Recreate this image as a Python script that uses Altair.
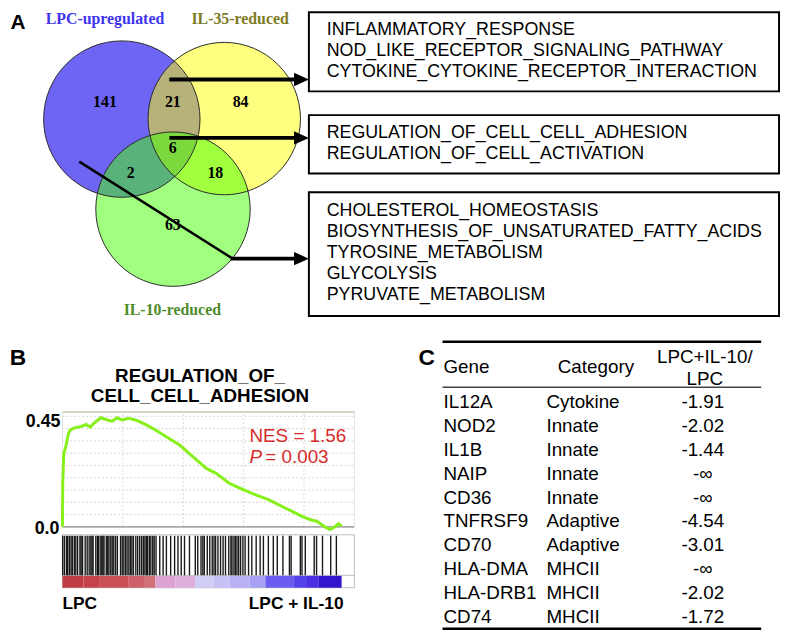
import altair as alt
import pandas as pd

SANS = "Liberation Sans"
SERIF = "Liberation Serif"

# ---------------- data ----------------
venn_sets = ["LPC-upregulated", "IL-35-reduced", "IL-10-reduced"]
venn_set_colors = ["#3f35ee", "#7d7b1f", "#4f8b2b"]
venn_region_counts = [141, 21, 84, 6, 2, 18, 63]

box1_terms = ["INFLAMMATORY_RESPONSE", "NOD_LIKE_RECEPTOR_SIGNALING_PATHWAY",
              "CYTOKINE_CYTOKINE_RECEPTOR_INTERACTION"]
box2_terms = ["REGULATION_OF_CELL_CELL_ADHESION", "REGULATION_OF_CELL_ACTIVATION"]
box3_terms = ["CHOLESTEROL_HOMEOSTASIS", "BIOSYNTHESIS_OF_UNSATURATED_FATTY_ACIDS",
              "TYROSINE_METABOLISM", "GLYCOLYSIS", "PYRUVATE_METABOLISM"]

gsea_title = ["REGULATION_OF_", "CELL_CELL_ADHESION"]
es_rank = [0, 10, 43, 121, 197, 262, 393, 613, 777, 918, 1049, 1269, 1485, 1649, 1813,
           1977, 2197, 2469, 2744, 3016, 3452, 3892, 4328, 4764, 5092, 5531, 5967, 6403,
           6843, 7279, 7607, 7934, 8262, 8426, 8698, 8862, 9026, 9138, 9246]
es_value = [0.0, 0.177, 0.298, 0.332, 0.379, 0.395, 0.403, 0.408, 0.417, 0.406, 0.422,
            0.444, 0.435, 0.430, 0.444, 0.435, 0.442, 0.433, 0.417, 0.399, 0.366, 0.332,
            0.285, 0.238, 0.218, 0.177, 0.153, 0.130, 0.110, 0.083, 0.063, 0.043, 0.027,
            0.023, 0.0, -0.011, 0.0, 0.013, 0.003]
es_ticks = [0.05, 0.10, 0.15, 0.20, 0.25, 0.30, 0.35, 0.40, 0.45]
rank_ticks = [2000, 4000, 6000, 8000]
hit_ranks = [10, 66, 134, 174, 230, 285, 328, 393, 443, 502, 580, 620, 666, 754, 820,
             885, 941, 980, 1016, 1105, 1160, 1190, 1250, 1302, 1340, 1377, 1452, 1500,
             1541, 1600, 1649, 1700, 1761, 1820, 1925, 1980, 2033, 2090, 2141, 2200,
             2252, 2300, 2351, 2430, 2492, 2560, 2623, 2680, 2731, 2780, 2820, 2880,
             2928, 2990, 3039, 3100, 3223, 3334, 3443, 3584, 3715, 3826, 3934, 4043,
             4207, 4400, 4482, 4590, 4650, 4698, 4797, 4880, 4961, 5020, 5072, 5150,
             5236, 5320, 5400, 5508, 5580, 5616, 5680, 5728, 5780, 5836, 5900, 5977,
             6050, 6164, 6272, 6416, 6548, 6656, 6820, 6984, 7115, 7302, 7518, 7574,
             7879, 7934, 8043, 8338, 8416, 8613, 8885, 9072]
cbar_start = [0, 700, 1213, 2197, 2700, 3082, 3738, 4393, 5000, 5541, 6200, 6721, 7672,
              8100, 8492]
cbar_end = [700, 1213, 2197, 2700, 3082, 3738, 4393, 5000, 5541, 6200, 6721, 7672, 8100,
            8492, 9246]
cbar_color = ["#c23c44", "#c5424b", "#ca5058", "#cd6068", "#d27078", "#dca2d2", "#dfaedb",
              "#d0cdf7", "#c6c2f6", "#b8b2f4", "#a8a0f2", "#6c5cf0", "#5440e8", "#4a30e2",
              "#3414cc"]
nes_text = "NES = 1.56"
p_text = "= 0.003"

genes = ["IL12A", "NOD2", "IL1B", "NAIP", "CD36", "TNFRSF9", "CD70", "HLA-DMA",
         "HLA-DRB1", "CD74"]
categories = ["Cytokine", "Innate", "Innate", "Innate", "Innate", "Adaptive",
              "Adaptive", "MHCII", "MHCII", "MHCII"]
ratios = ["-1.91", "-2.02", "-1.44", "-\u221e", "-\u221e", "-4.54", "-3.01", "-\u221e",
          "-2.02", "-1.72"]

# ---------------- layout (reference pixel frame, page margin 8px) ----------------
W, H = 782, 626
OFF = 8


def LX():
    return alt.Scale(domain=[OFF, OFF + W], range=[0, W], nice=False, zero=False)


def LY():
    return alt.Scale(domain=[OFF, OFF + H], range=[0, H], nice=False, zero=False)


def px(v):
    return v - OFF


def py(v):
    return v - OFF


def texts(rows, size, weight="normal", font=SANS, align="left", color="black",
          style="normal"):
    df = pd.DataFrame(rows, columns=["x", "y", "t"])
    return alt.Chart(df).mark_text(
        fontSize=size, fontWeight=weight, font=font, align=align, baseline="middle",
        color=color, fontStyle=style
    ).encode(
        x=alt.X("x:Q", scale=LX(), axis=None),
        y=alt.Y("y:Q", scale=LY(), axis=None),
        text="t:N",
    )


layers = []

# ---- Panel A: Venn ----
circles = pd.DataFrame({
    "cx": [123, 226.5, 174.7], "cy": [117, 116.5, 208], "d": [158, 154, 156],
    "fill": ["#6f65f5", "#ffff00", "#42ff00"], "op": [1.0, 0.5, 0.5],
})
circles["size"] = circles["d"] ** 2
layers.append(alt.Chart(circles).mark_circle().encode(
    x=alt.X("cx:Q", scale=LX(), axis=None), y=alt.Y("cy:Q", scale=LY(), axis=None),
    size=alt.Size("size:Q", scale=None), color=alt.Color("fill:N", scale=None),
    opacity=alt.Opacity("op:Q", scale=None)))
layers.append(alt.Chart(circles).mark_point(shape="circle", filled=False, color="#2a2a2a",
                                            strokeWidth=1, opacity=1).encode(
    x=alt.X("cx:Q", scale=LX(), axis=None), y=alt.Y("cy:Q", scale=LY(), axis=None),
    size=alt.Size("size:Q", scale=None)))

count_pos = [(106, 100), (174.5, 100), (243, 100), (174.5, 146.5), (132, 171.5),
             (217.5, 171.5), (174.5, 224.5)]
layers.append(texts([(x, y, str(c)) for (x, y), c in zip(count_pos, venn_region_counts)],
                    16, weight="bold", font=SERIF, align="center"))
set_pos = [(106, 16), (242.5, 16), (174, 310)]
for (x, y), s, c in zip(set_pos, venn_sets, venn_set_colors):
    layers.append(texts([(x, y, s)], 16, weight="bold", font=SERIF, align="center",
                        color=c))

# arrows
lines = pd.DataFrame({
    "x": [171, 171, 80, 233], "x2": [300, 300, 235, 300],
    "y": [77, 136, 160, 258], "y2": [77, 136, 258, 258], "w": [4, 4, 2.5, 4],
})
layers.append(alt.Chart(lines).mark_rule(color="black").encode(
    x=alt.X("x:Q", scale=LX(), axis=None), x2="x2:Q",
    y=alt.Y("y:Q", scale=LY(), axis=None), y2="y2:Q",
    strokeWidth=alt.StrokeWidth("w:Q", scale=None)))
heads = pd.DataFrame({"x": [304.5, 304.5, 304.5], "y": [77, 136, 258]})
layers.append(alt.Chart(heads).mark_point(
    shape="M-1,-0.9L1,0L-1,0.9Z", filled=True, color="black", size=225, opacity=1
).encode(x=alt.X("x:Q", scale=LX(), axis=None), y=alt.Y("y:Q", scale=LY(), axis=None)))

# boxes
boxes = pd.DataFrame({"x": [312, 312, 312], "x2": [787, 787, 787],
                      "y": [9, 113, 191], "y2": [89, 172, 316]})
layers.append(alt.Chart(boxes).mark_rect(fillOpacity=0, stroke="black", strokeWidth=2).encode(
    x=alt.X("x:Q", scale=LX(), axis=None), x2="x2:Q",
    y=alt.Y("y:Q", scale=LY(), axis=None), y2="y2:Q"))
term_rows = []
for terms, ys in [(box1_terms, [27, 48, 69]), (box2_terms, [131, 152]),
                  (box3_terms, [210, 231, 252, 274, 295])]:
    for t, y in zip(terms, ys):
        term_rows.append((330, y, t))
layers.append(texts(term_rows, 18))

# panel letters
layers.append(texts([(18, 20, "A")], 21, weight="bold", align="center"))
layers.append(texts([(18, 358, "B"), (431, 358, "C")], 23, weight="bold",
                    align="center"))

# ---- Panel B: GSEA ----
ES_TOP = 0.468
RMAX = 9670


def rx():
    return alt.Scale(domain=[0, RMAX], range=[px(63), px(358)], nice=False, zero=False)


def ry():
    return alt.Scale(domain=[0, 0.45], range=[py(529), py(417.3)], nice=False, zero=False)


hgrid = pd.DataFrame({"es": es_ticks, "r0": 0, "r1": RMAX})
layers.append(alt.Chart(hgrid).mark_rule(color="#d6d6d6", strokeWidth=1,
                                         strokeDash=[2, 2]).encode(
    x=alt.X("r0:Q", scale=rx(), axis=None), x2="r1:Q",
    y=alt.Y("es:Q", scale=ry(), axis=None)))
vgrid = pd.DataFrame({"r": rank_ticks, "e0": 0.0, "e1": ES_TOP})
layers.append(alt.Chart(vgrid).mark_rule(color="#d6d6d6", strokeWidth=1,
                                         strokeDash=[2, 2]).encode(
    x=alt.X("r:Q", scale=rx(), axis=None),
    y=alt.Y("e0:Q", scale=ry(), axis=None), y2="e1:Q"))
frame_v = pd.DataFrame({"r": [0, RMAX], "e0": 0.0, "e1": ES_TOP})
layers.append(alt.Chart(frame_v).mark_rule(color="#e2e2e2", strokeWidth=1).encode(
    x=alt.X("r:Q", scale=rx(), axis=None),
    y=alt.Y("e0:Q", scale=ry(), axis=None), y2="e1:Q"))
frame_h = pd.DataFrame({"es": [ES_TOP, 0.0], "r0": 0, "r1": RMAX,
                        "c": ["#c9c9b6", "#a8a8a8"], "w": [1.5, 2]})
layers.append(alt.Chart(frame_h).mark_rule().encode(
    x=alt.X("r0:Q", scale=rx(), axis=None), x2="r1:Q",
    y=alt.Y("es:Q", scale=ry(), axis=None),
    color=alt.Color("c:N", scale=None), strokeWidth=alt.StrokeWidth("w:Q", scale=None)))

es_df = pd.DataFrame({"rank": es_rank, "es": es_value})
layers.append(alt.Chart(es_df).mark_line(color="#86f01a", strokeWidth=3).encode(
    x=alt.X("rank:Q", scale=rx(), axis=None),
    y=alt.Y("es:Q", scale=ry(), axis=None)))

# hit region frame
for yy in [537, 578, 590.5]:
    layers.append(alt.Chart(pd.DataFrame({"r0": [0], "r1": [RMAX]})).mark_rule(
        color="#bdbdbd", strokeWidth=1).encode(
        x=alt.X("r0:Q", scale=rx(), axis=None), x2="r1:Q", y=alt.value(py(yy))))
layers.append(alt.Chart(pd.DataFrame({"r": [0, RMAX]})).mark_rule(
    color="#bdbdbd", strokeWidth=1).encode(
    x=alt.X("r:Q", scale=rx(), axis=None), y=alt.value(py(537)), y2=alt.value(py(590.5))))

hits = pd.DataFrame({"rank": hit_ranks})
layers.append(alt.Chart(hits).mark_rule(color="black", strokeWidth=1.4, opacity=0.9).encode(
    x=alt.X("rank:Q", scale=rx(), axis=None), y=alt.value(py(538)), y2=alt.value(py(578))))

cbar = pd.DataFrame({"r0": cbar_start, "r1": cbar_end, "c": cbar_color})
layers.append(alt.Chart(cbar).mark_rect().encode(
    x=alt.X("r0:Q", scale=rx(), axis=None), x2="r1:Q",
    y=alt.value(py(578.5)), y2=alt.value(py(590.5)),
    color=alt.Color("c:N", scale=None)))

layers.append(texts([(202, 377, gsea_title[0]), (202, 397, gsea_title[1])], 19,
                    weight="bold", align="center"))
layers.append(texts([(61, 423, "0.45"), (60, 531, "0.0")], 18, weight="bold",
                    align="right"))
layers.append(texts([(63, 607, "LPC")], 17.5, weight="bold"))
layers.append(texts([(347, 607, "LPC + IL-10")], 17.5, weight="bold", align="right"))
layers.append(texts([(252, 437, nes_text), (268, 458, p_text)], 19, color="#d62a2a"))
layers.append(texts([(252, 458, "P")], 19, color="#d62a2a", style="italic"))

# ---- Panel C: table ----
tab = pd.DataFrame({"row": list(range(len(genes))), "gene": genes, "cat": categories,
                    "val": ratios})


def trow():
    return alt.Scale(domain=[0, 9], range=[py(403), py(620)], nice=False, zero=False)


for field, xx, al in [("gene", 448, "left"), ("cat", 552, "left"), ("val", 710, "center")]:
    layers.append(alt.Chart(tab).mark_text(fontSize=19, font=SANS, align=al,
                                           baseline="middle", color="black").encode(
        x=alt.value(px(xx)), y=alt.Y("row:Q", scale=trow(), axis=None),
        text=f"{field}:N"))
layers.append(texts([(448, 368, "Gene")], 19))
layers.append(texts([(602, 368, "Category"), (712, 357, "LPC+IL-10/"), (712, 380, "LPC")],
                    19, align="center"))
trules = pd.DataFrame({"x": [447, 447, 447], "x2": [769, 769, 769],
                       "y": [342, 388, 632], "w": [2.5, 1.5, 2.5],
                       "c": ["black", "#444444", "black"]})
layers.append(alt.Chart(trules).mark_rule().encode(
    x=alt.X("x:Q", scale=LX(), axis=None), x2="x2:Q",
    y=alt.Y("y:Q", scale=LY(), axis=None),
    strokeWidth=alt.StrokeWidth("w:Q", scale=None), color=alt.Color("c:N", scale=None)))

chart = alt.layer(*layers).resolve_scale(x="independent", y="independent").properties(
    width=W, height=H, autosize=alt.AutoSizeParams(type="none"), padding=0,
    background="white",
).configure_view(stroke=None)

chart.save("out.html", embed_options={"renderer": "svg", "actions": False})
